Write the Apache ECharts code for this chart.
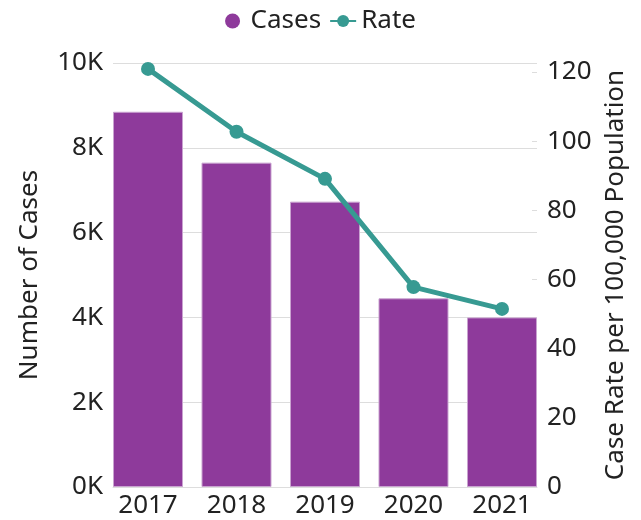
<!DOCTYPE html>
<html>
<head>
<meta charset="utf-8">
<script src="https://cdn.jsdelivr.net/npm/echarts@6/dist/echarts.min.js"></script>
<style>
  html, body { margin: 0; padding: 0; background: #fff; }
  #main { width: 641px; height: 520px; }
</style>
</head>
<body>
<div id="main"></div>
<script>
// data
var years = ['2017', '2018', '2019', '2020', '2021'];
var cases = [8850, 7650, 6730, 4450, 4000];
var rates = [120.9, 102.7, 89.1, 57.8, 51.5];
var yearTicks = [0, 1, 2, 3, 4];
var rateTicks = [0, 20, 40, 60, 80, 100, 120];

var font = 'Noto Sans';
var fs = 26;
var chart = echarts.init(document.getElementById('main'));

// x is a value axis (index of year) so the plot edges sit flush with the outer bars
function pairs(arr) {
    return arr.map(function (v, i) { return [i, v]; });
}

var option = {
    animation: false,
    textStyle: { fontFamily: font },
    legend: {
        top: 3,
        left: 'center',
        itemWidth: 26,
        itemHeight: 15,
        itemGap: 8,
        textStyle: { fontSize: fs, color: '#222', fontFamily: font },
        data: [
            { name: 'Cases', icon: 'circle', itemStyle: { borderWidth: 0 } },
            { name: 'Rate' }
        ]
    },
    grid: { left: 113, right: 104, top: 63, bottom: 33 },
    xAxis: {
        type: 'value',
        min: -0.3955,
        max: 4.3955,
        axisLine: { show: true, onZero: false, lineStyle: { color: '#dddddd' } },
        axisTick: { show: false },
        splitLine: { show: false },
        axisLabel: {
            fontSize: fs, color: '#222', margin: 6, fontFamily: font,
            customValues: yearTicks,
            formatter: function (v) { return years[Math.round(v)]; }
        }
    },
    yAxis: [
        {
            type: 'value',
            min: 0,
            max: 10000,
            interval: 2000,
            name: 'Number of Cases',
            nameLocation: 'middle',
            nameGap: 70,
            nameTextStyle: { fontSize: fs, color: '#222', fontFamily: font },
            axisLine: { show: false },
            axisTick: { show: false },
            axisLabel: {
                fontSize: fs, color: '#222', margin: 10, fontFamily: font,
                formatter: function (v) { return (v / 1000) + 'K'; }
            },
            splitLine: { lineStyle: { color: '#dddddd', width: 1 } }
        },
        {
            type: 'value',
            min: 0,
            max: 122.6,
            position: 'right',
            name: 'Case Rate per 100,000 Population',
            nameLocation: 'middle',
            nameGap: 64,
            nameRotate: 90,
            nameTextStyle: { fontSize: fs, color: '#222', fontFamily: font },
            axisLine: { show: false },
            axisTick: {
                show: true, inside: true, length: 5,
                customValues: rateTicks,
                lineStyle: { color: '#dddddd' }
            },
            axisLabel: {
                fontSize: fs, color: '#222', margin: 10, fontFamily: font,
                customValues: rateTicks
            },
            splitLine: { show: false }
        }
    ],
    series: [
        {
            name: 'Cases',
            type: 'bar',
            data: pairs(cases),
            barWidth: 70,
            itemStyle: { color: '#8e3a9b', borderColor: '#c9a3d0', borderWidth: 1 }
        },
        {
            name: 'Rate',
            type: 'line',
            yAxisIndex: 1,
            data: pairs(rates),
            symbol: 'circle',
            symbolSize: 14,
            lineStyle: { color: '#379a92', width: 5 },
            itemStyle: { color: '#379a92' }
        }
    ]
};
chart.setOption(option);
</script>
</body>
</html>
